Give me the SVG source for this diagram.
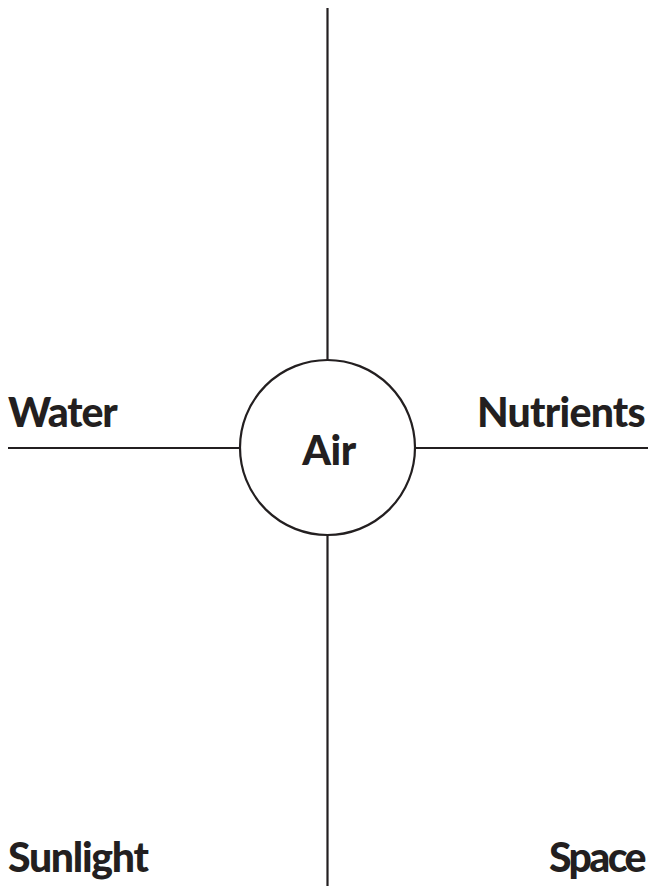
<svg xmlns="http://www.w3.org/2000/svg" width="650" height="886" viewBox="0 0 650 886">
<style>
.ln{stroke:#231f20;stroke-width:2.2;fill:none}
.lbl{font-family:Lato,"Open Sans","Liberation Sans",sans-serif;font-weight:900;font-size:41px;fill:#231f20}
.r{text-anchor:end}
</style>
<rect width="650" height="886" fill="#fff"/>
<g id="connectors">
<line class="ln" x1="327.5" y1="8" x2="327.5" y2="360"/>
<line class="ln" x1="327.5" y1="535" x2="327.5" y2="886"/>
<line class="ln" x1="8" y1="448" x2="240" y2="448"/>
<line class="ln" x1="415" y1="448" x2="648" y2="448"/>
</g>
<g id="air">
<circle class="ln" cx="327.5" cy="447.5" r="87.5"/>
<text class="lbl" x="329" y="465" text-anchor="middle" letter-spacing="-0.5">Air</text>
</g>
<g id="water"><text class="lbl" x="8" y="427" letter-spacing="-1.1">Water</text></g>
<g id="nutrients"><text class="lbl r" x="645" y="427" letter-spacing="-0.75">Nutrients</text></g>
<g id="sunlight"><text class="lbl" x="8" y="872" letter-spacing="-1.3">Sunlight</text></g>
<g id="space"><text class="lbl r" x="644" y="872" letter-spacing="-2.6">Space</text></g>
</svg>
